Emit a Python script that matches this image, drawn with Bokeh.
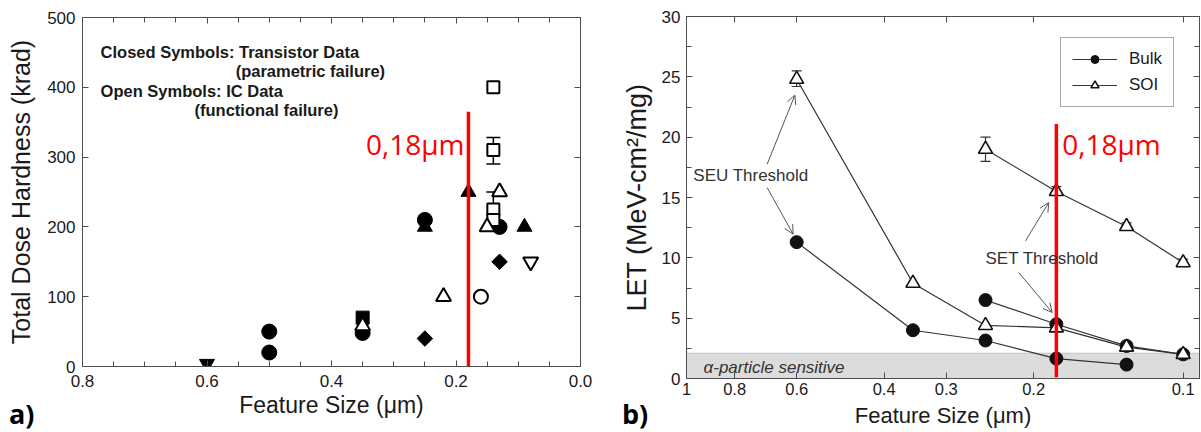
import math
from bokeh.plotting import figure
from bokeh.layouts import row, column
from bokeh.models import (Range1d, LinearAxis, LogAxis, SingleIntervalTicker, FixedTicker,
                          PrintfTickFormatter, CustomJSTickFormatter, Label, Arrow, OpenHead,
                          BoxAnnotation, Whisker, TeeHead, ColumnDataSource, Legend, LegendItem, Div)
from bokeh.embed import file_html
from bokeh.resources import INLINE

FONT = "Liberation Sans"
AX = "#4d4d4d"
TXT = "#1a1a1a"

# ---------------- panel a) data ----------------
closed_circle_x = [0.5, 0.5, 0.35, 0.25, 0.13]
closed_circle_y = [50, 20, 48, 210, 200]
closed_triangle_x = [0.25, 0.18, 0.09]
closed_triangle_y = [200, 250, 200]
closed_square_x = [0.35]
closed_square_y = [70]
closed_diamond_x = [0.25, 0.13]
closed_diamond_y = [40, 150]
closed_invtri_x = [0.6]
closed_invtri_y = [4]
open_triangle_x = [0.35, 0.22, 0.15, 0.13]
open_triangle_y = [58, 100, 200, 250]
open_circle_x = [0.16]
open_circle_y = [100]
open_square_x = [0.14, 0.14, 0.14, 0.14]
open_square_y = [400, 310, 225, 210]
open_invtri_x = [0.08]
open_invtri_y = [150]
err_a_x = [0.14, 0.14]
err_a_lo = [290, 205]
err_a_hi = [328, 250]
threshold_a_x = [0.18]
threshold_a_y0 = [0]
threshold_a_y1 = [365]

# ---------------- panel b) data ----------------
bulk_seu_x = [0.6, 0.35, 0.25, 0.18, 0.13]
bulk_seu_y = [11.3, 4.0, 3.15, 1.65, 1.15]
soi_seu_x = [0.6, 0.35, 0.25, 0.18, 0.13, 0.1]
soi_seu_y = [24.8, 7.9, 4.4, 4.2, 2.6, 2.0]
bulk_set_x = [0.25, 0.18, 0.13, 0.1]
bulk_set_y = [6.5, 4.5, 2.7, 2.0]
soi_set_x = [0.25, 0.18, 0.13, 0.1]
soi_set_y = [19.0, 15.5, 12.6, 9.6]
err_b_x = [0.6, 0.25, 0.25, 0.18, 0.13, 0.1]
err_b_lo = [24.2, 18.0, 6.2, 15.2, 12.3, 9.3]
err_b_hi = [25.5, 20.0, 6.8, 15.9, 12.9, 9.9]
alpha_band_top = 2.1
threshold_b_x = [0.18]
threshold_b_y0 = [0.1]
threshold_b_y1 = [21.1]
log_ticks = [1, 0.8, 0.6, 0.4, 0.3, 0.2, 0.1]


def style_axis(ax, show_labels=True, tick_font="17px"):
    ax.axis_line_color = AX
    ax.major_tick_line_color = AX
    ax.minor_tick_line_color = AX
    ax.major_tick_in = 6
    ax.major_tick_out = 0
    ax.minor_tick_in = 5
    ax.minor_tick_out = 0
    ax.major_label_text_font = FONT
    ax.major_label_text_color = TXT
    ax.axis_label_text_font = FONT
    ax.axis_label_text_font_style = "normal"
    ax.axis_label_text_color = TXT
    if show_labels:
        ax.major_label_text_font_size = tick_font
    else:
        ax.major_label_text_font_size = "1px"
        ax.major_label_text_color = None
        ax.major_label_standoff = 0
        ax.axis_label = None


# ================= panel a =================
p1 = figure(width=600, height=431, x_range=Range1d(0.8, 0.0), y_range=Range1d(0, 500),
            output_backend="svg", toolbar_location=None,
            min_border_left=82, min_border_right=20, min_border_top=17, min_border_bottom=65)
p1.xgrid.grid_line_color = None
p1.ygrid.grid_line_color = None
p1.outline_line_color = AX
p1.background_fill_color = "white"

xa = p1.xaxis[0]
xa.ticker = SingleIntervalTicker(interval=0.2, num_minor_ticks=4)
xa.formatter = PrintfTickFormatter(format="%.1f")
style_axis(xa)
xa.axis_label = "Feature Size (μm)"
xa.axis_label_text_font_size = "23px"
xa.major_label_standoff = 8
xa.axis_label_standoff = 2

ya = p1.yaxis[0]
ya.ticker = SingleIntervalTicker(interval=100)
style_axis(ya)
ya.minor_tick_line_color = None
ya.axis_label = "Total Dose Hardness (krad)"
ya.axis_label_text_font_size = "25px"
ya.major_label_standoff = 7
ya.axis_label_standoff = 9

top1 = LinearAxis(ticker=SingleIntervalTicker(interval=0.2, num_minor_ticks=4))
style_axis(top1, show_labels=False)
p1.add_layout(top1, "above")
right1 = LinearAxis(ticker=SingleIntervalTicker(interval=100))
style_axis(right1, show_labels=False)
right1.minor_tick_line_color = None
p1.add_layout(right1, "right")

p1.add_layout(Whisker(source=ColumnDataSource(dict(x=err_a_x, lo=err_a_lo, hi=err_a_hi)),
                      base="x", lower="lo", upper="hi", line_color="black", line_width=1.5,
                      upper_head=TeeHead(size=14, line_color="black", line_width=1.5),
                      lower_head=TeeHead(size=14, line_color="black", line_width=1.5)))

closed = dict(fill_color="black", line_color="black")
opened = dict(fill_color="white", line_color="black", line_width=2)
p1.scatter(closed_circle_x, closed_circle_y, marker="circle", size=15, **closed)
p1.scatter(closed_square_x, closed_square_y, marker="square", size=13, **closed)
p1.scatter(closed_triangle_x, closed_triangle_y, marker="triangle", size=15, **closed)
p1.scatter(closed_diamond_x, closed_diamond_y, marker="square", angle=math.pi / 4, size=11,
           **closed)
p1.scatter(closed_invtri_x, closed_invtri_y, marker="inverted_triangle", size=15, **closed)
p1.scatter(open_square_x, open_square_y, marker="square", size=12, **opened)
p1.scatter(open_triangle_x, open_triangle_y, marker="triangle", size=15, **opened)
p1.scatter(open_circle_x, open_circle_y, marker="circle", size=14, **opened)
p1.scatter(open_invtri_x, open_invtri_y, marker="inverted_triangle", size=15, **opened)

for tx, ty, t in [(0.771, 450, "Closed Symbols: Transistor Data"),
                  (0.554, 424, "(parametric failure)"),
                  (0.771, 395, "Open Symbols: IC Data"),
                  (0.62, 367, "(functional failure)")]:
    p1.add_layout(Label(x=tx, y=ty, text=t, text_font=FONT, text_font_style="bold",
                        text_font_size="16.5px", text_color=TXT, text_baseline="middle",
                        text_align="left"))

p1.segment(x0=threshold_a_x, y0=threshold_a_y0, x1=threshold_a_x, y1=threshold_a_y1,
           line_color="#ff0000", line_width=3.5)
p1.add_layout(Label(x=0.1863, y=319, text="0,18μm", text_font="Open Sans", text_font_size="28px",
                    text_color="#ff0000", text_align="right", text_baseline="middle"))

# ================= panel b =================
p2 = figure(width=600, height=431, x_axis_type="log", x_range=Range1d(1, 0.0927),
            y_range=Range1d(0, 30), output_backend="svg", toolbar_location=None,
            min_border_left=86, min_border_right=1, min_border_top=16, min_border_bottom=53)
p2.xgrid.grid_line_color = None
p2.ygrid.grid_line_color = None
p2.outline_line_color = AX

xb = p2.xaxis[0]
xb.ticker = FixedTicker(ticks=log_ticks, minor_ticks=[])
xb.formatter = CustomJSTickFormatter(code="return tick.toString();")
style_axis(xb, tick_font="16.5px")
xb.axis_label = "Feature Size (μm)"
xb.axis_label_text_font_size = "22px"
xb.major_label_standoff = 4
xb.axis_label_standoff = 5

yb = p2.yaxis[0]
yb.ticker = SingleIntervalTicker(interval=5, num_minor_ticks=2)
style_axis(yb)
yb.axis_label = "LET (MeV-cm²/mg)"
yb.axis_label_text_font_size = "27px"
yb.major_label_standoff = 6
yb.axis_label_standoff = 7

top2 = LogAxis(ticker=FixedTicker(ticks=log_ticks, minor_ticks=[]))
style_axis(top2, show_labels=False)
p2.add_layout(top2, "above")
right2 = LinearAxis(ticker=SingleIntervalTicker(interval=5, num_minor_ticks=2))
style_axis(right2, show_labels=False)
p2.add_layout(right2, "right")

p2.add_layout(BoxAnnotation(bottom=0, top=alpha_band_top, fill_color="#dcdcdc", fill_alpha=1,
                            line_color="#666666", line_width=1, level="underlay"))
p2.add_layout(Label(x=0.924, y=0.95, text="α-particle sensitive", text_font=FONT,
                    text_font_style="italic", text_font_size="17px", text_color="#333333",
                    text_baseline="middle"))

LC = "#333333"
l_bulk = p2.line(bulk_seu_x, bulk_seu_y, line_color=LC, line_width=1.2)
l_soi = p2.line(soi_seu_x, soi_seu_y, line_color=LC, line_width=1.2)
p2.line(bulk_set_x, bulk_set_y, line_color=LC, line_width=1.2)
p2.line(soi_set_x, soi_set_y, line_color=LC, line_width=1.2)

p2.add_layout(Whisker(source=ColumnDataSource(dict(x=err_b_x, lo=err_b_lo, hi=err_b_hi)),
                      base="x", lower="lo", upper="hi", line_color=LC, line_width=1.2,
                      upper_head=TeeHead(size=10, line_color=LC, line_width=1.2),
                      lower_head=TeeHead(size=10, line_color=LC, line_width=1.2)))

s_bulk = p2.scatter(bulk_seu_x, bulk_seu_y, marker="circle", size=13, fill_color="#111111",
                    line_color="#111111")
p2.scatter(bulk_set_x, bulk_set_y, marker="circle", size=13, fill_color="#111111",
           line_color="#111111")
s_soi = p2.scatter(soi_seu_x, soi_seu_y, marker="triangle", size=14, fill_color="white",
                   line_color="#111111", line_width=1.6)
p2.scatter(soi_set_x, soi_set_y, marker="triangle", size=14, fill_color="white",
           line_color="#111111", line_width=1.6)

AC = "#555555"
for xs, ys, xe, ye in [(0.688, 17.76, 0.605, 23.48), (0.688, 15.82, 0.61, 11.96),
                       (0.2077, 11.4, 0.1865, 14.58), (0.2143, 8.78, 0.1835, 5.47)]:
    p2.add_layout(Arrow(x_start=xs, y_start=ys, x_end=xe, y_end=ye, line_color=AC, line_width=1,
                        end=OpenHead(size=9, line_color=AC, line_width=1)))
p2.add_layout(Label(x=0.969, y=16.8, text="SEU Threshold", text_font=FONT, text_font_size="17px",
                    text_color="#333333", text_baseline="middle"))
p2.add_layout(Label(x=0.25, y=9.97, text="SET Threshold", text_font=FONT, text_font_size="17px",
                    text_color="#333333", text_baseline="middle"))

legend = Legend(items=[LegendItem(label="Bulk", renderers=[l_bulk, s_bulk]),
                       LegendItem(label="SOI", renderers=[l_soi, s_soi])],
                location=(374, 271), border_line_color="#555555", border_line_width=1,
                background_fill_color="white", background_fill_alpha=1,
                label_text_font=FONT, label_text_font_size="17px", label_text_color=TXT,
                glyph_width=45, glyph_height=20, padding=11, spacing=6, label_standoff=12,
                margin=0)
p2.add_layout(legend)

p2.segment(x0=threshold_b_x, y0=threshold_b_y0, x1=threshold_b_x, y1=threshold_b_y1,
           line_color="#ff0000", line_width=3.5)
p2.add_layout(Label(x=0.1752, y=19.4, text="0,18μm", text_font="Open Sans", text_font_size="28px",
                    text_color="#ff0000", text_align="left", text_baseline="middle"))

# panel letters a) and b), overlaid along the bottom edge of the two panels
span_style = ("position:absolute;top:-2px;font-family:'Open Sans';font-weight:bold;"
              "font-size:27px;line-height:30px;color:black;")
letters = Div(text=('<div style="position:relative;width:1200px;height:30px;">'
                    f'<span style="{span_style}left:9px;">a)</span>'
                    f'<span style="{span_style}left:622px;">b)</span></div>'),
              width=1200, height=30, margin=(-30, 0, 0, 0))

layout = column(row(column(p1), column(p2)), letters)
open("out.html", "w").write(file_html(layout, INLINE))
